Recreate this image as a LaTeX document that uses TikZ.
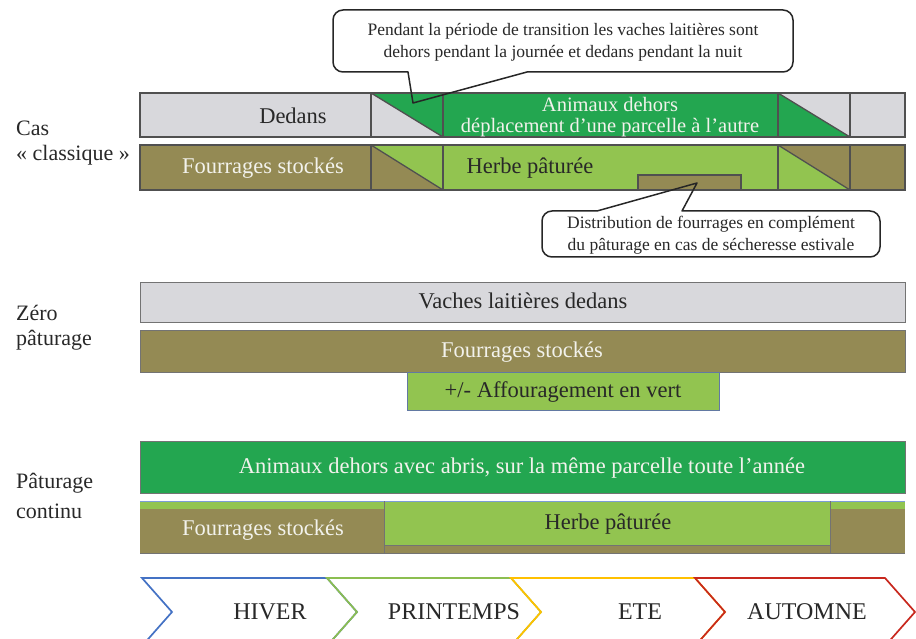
\documentclass[tikz,border=0pt]{standalone}
\usepackage{fontspec}
\setmainfont{Liberation Serif}
\definecolor{greyc}{RGB}{216,216,220}
\definecolor{dgreen}{RGB}{35,166,80}
\definecolor{lgreen}{RGB}{146,196,80}
\definecolor{brownc}{RGB}{148,138,84}
\definecolor{edgec}{RGB}{80,80,80}
\definecolor{txtdark}{RGB}{40,40,40}
\definecolor{txtlight}{RGB}{242,242,236}
\definecolor{sblue}{RGB}{68,114,196}
\definecolor{sgreen}{RGB}{140,190,80}
\definecolor{syellow}{RGB}{255,192,0}
\definecolor{sred}{RGB}{200,40,30}
\tikzset{
  barline/.style={draw=edgec, line width=1.3pt},
  thinedge/.style={draw=edgec!80, line width=0.9pt},
  lbl/.style={font=\fontsize{22}{26}\selectfont, anchor=west, text=txtdark, inner sep=0pt},
  bartxt/.style={font=\fontsize{22.5}{26}\selectfont, inner sep=0pt},
  calltxt/.style={font=\fontsize{17.5}{22}\selectfont, align=center, inner sep=0pt, text=txtdark},
  callout/.style={draw=black!85, line width=1.5pt, line join=round},
  seasonline/.style={line width=1.7pt, line join=miter},
  seasontxt/.style={font=\fontsize{24}{28}\selectfont, text=txtdark, inner sep=0pt}
}
\begin{document}
\begin{tikzpicture}[x=1pt,y=-1pt]
\useasboundingbox (0,0) rectangle (916,639);

% ---------- left labels
\node[lbl] (l1) at (16,128) {Cas};
\node[lbl] (l2) at (16,155) {« classique »};
\node[lbl] (l3) at (16,313) {Zéro};
\node[lbl] (l4) at (16,340) {pâturage};
\node[lbl] (l5) at (16,483) {Pâturage};
\node[lbl] (l6) at (16,511) {continu};

% ---------- Cas classique, row 1
\fill[greyc] (140,93) rectangle (905,137);
\fill[dgreen] (371,93) -- (443,93) -- (443,137) -- cycle;
\fill[dgreen] (443,93) rectangle (778,137);
\fill[dgreen] (778,93) -- (850,137) -- (778,137) -- cycle;
\draw[barline] (140,93) rectangle (905,137);
\draw[barline] (371,93) -- (371,137) (443,93) -- (443,137) (778,93) -- (778,137) (850,93) -- (850,137);
\draw[barline] (371,93) -- (443,137) (778,93) -- (850,137);
\node[bartxt, text=txtdark] (dedans) at (293,116) {Dedans};
\node[bartxt, text=txtlight, font=\fontsize{20.5}{24}\selectfont] (anim1) at (610,104) {Animaux dehors};
\node[bartxt, text=txtlight, font=\fontsize{20.5}{24}\selectfont] (anim2) at (610,128) {déplacement d’une parcelle à l’autre};

% ---------- Cas classique, row 2
\fill[brownc] (140,145) rectangle (905,190);
\fill[lgreen] (371,145) -- (443,145) -- (443,190) -- cycle;
\fill[lgreen] (443,145) rectangle (778,190);
\fill[lgreen] (778,145) -- (850,190) -- (778,190) -- cycle;
\fill[brownc] (638,175) rectangle (741,190);
\draw[barline] (638,190) -- (638,175) -- (741,175) -- (741,190);
\draw[barline] (140,145) rectangle (905,190);
\draw[barline] (371,145) -- (371,190) (443,145) -- (443,190) (778,145) -- (778,190) (850,145) -- (850,190);
\draw[barline] (371,145) -- (443,190) (778,145) -- (850,190);
\node[bartxt, text=txtlight] (fs1) at (263,168) {Fourrages stockés};
\node[bartxt, text=txtdark] (hp1) at (530,168) {Herbe pâturée};

% ---------- callouts
\draw[callout] (527,72) [rounded corners=10pt] -- (793,72) -- (793,10) -- (333,10) -- (333,72) [sharp corners] -- (408,72) -- (413,103) -- cycle;
\node[calltxt] (c1) at (563,42) {Pendant la période de transition les vaches laitières sont\\dehors pendant la journée et dedans pendant la nuit};

\draw[callout] (682,211) [rounded corners=10pt] -- (880,211) -- (880,257) -- (542,257) -- (542,211) [sharp corners] -- (597,211) -- (697,183) -- cycle;
\node[calltxt] (c2) at (711,235) {Distribution de fourrages en complément\\du pâturage en cas de sécheresse estivale};

% ---------- Zéro pâturage
\fill[greyc] (140,282) rectangle (905,322);
\draw[thinedge] (140,282) rectangle (905,322);
\fill[brownc] (140,330) rectangle (905,372);
\draw[thinedge] (140,330) rectangle (905,372);
\fill[lgreen] (407,372) rectangle (719,410);
\draw[draw=sblue!50!gray, line width=0.8pt] (407,372) rectangle (719,410);
\node[bartxt, text=txtdark] (vld) at (523,301) {Vaches laitières dedans};
\node[bartxt, text=txtlight] (fs2) at (522,352) {Fourrages stockés};
\node[bartxt, text=txtdark] (aff) at (563,392) {+/- Affouragement en vert};

% ---------- Pâturage continu
\fill[dgreen] (140,441) rectangle (905,493);
\draw[thinedge] (140,441) rectangle (905,493);
\fill[brownc] (140,501) rectangle (905,553);
\fill[lgreen] (140,501) rectangle (905,509);
\fill[lgreen] (384,501) rectangle (830,545);
\draw[draw=sblue!70, line width=0.8pt] (140,501) -- (905,501);
\draw[thinedge] (384,501) -- (384,553) (830,501) -- (830,553) (384,545) -- (830,545);
\draw[thinedge] (140,553) -- (905,553);
\node[bartxt, text=txtlight] (anim3) at (522,468) {Animaux dehors avec abris, sur la même parcelle toute l’année};
\node[bartxt, text=txtlight] (fs3) at (263,530) {Fourrages stockés};
\node[bartxt, text=txtdark] (hp3) at (608,524) {Herbe pâturée};

% ---------- seasons
\begin{scope}
\clip (0,0) rectangle (916,639);
\draw[seasonline, sblue] (142,578) -- (327,578) -- (357,612) -- (327,646) -- (142,646) -- (172,612) -- cycle;
\draw[seasonline, sgreen] (327,578) -- (511,578) -- (541,612) -- (511,646) -- (327,646) -- (357,612) -- cycle;
\draw[seasonline, syellow] (511,578) -- (695,578) -- (725,612) -- (695,646) -- (511,646) -- (541,612) -- cycle;
\draw[seasonline, sred] (695,578) -- (885,578) -- (915,612) -- (885,646) -- (695,646) -- (725,612) -- cycle;
\end{scope}
\node[seasontxt] (hiver) at (270,612) {HIVER};
\node[seasontxt] (print) at (454,612) {PRINTEMPS};
\node[seasontxt] (ete) at (640,612) {ETE};
\node[seasontxt] (autom) at (807,612) {AUTOMNE};
\end{tikzpicture}
\end{document}
